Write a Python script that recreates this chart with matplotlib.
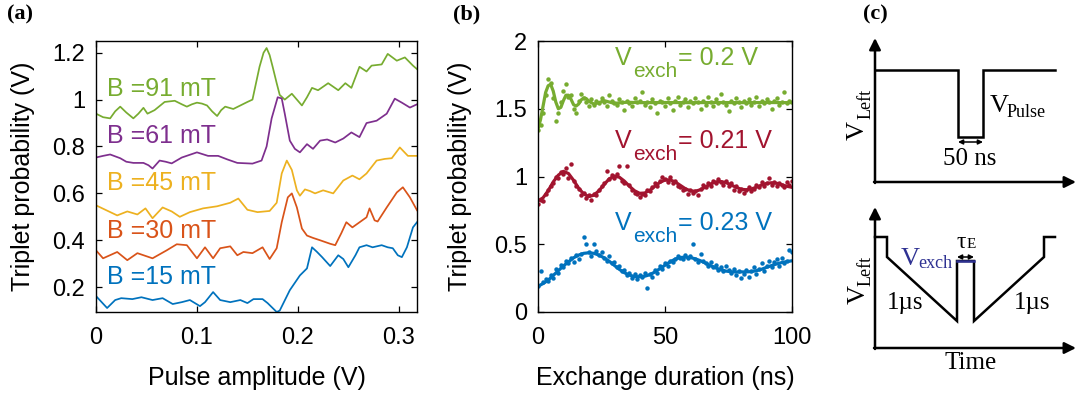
import numpy as np
import matplotlib.pyplot as plt

plt.rcParams['font.family'] = ['Liberation Sans', 'DejaVu Sans']

W, H = 1077, 398

# ---- panel (a): triplet probability vs pulse amplitude, offset curves ----
b_fields = ['B =91 mT', 'B =61 mT', 'B =45 mT', 'B =30 mT', 'B =15 mT']
b_colors = ['#77AC30', '#7E2F8E', '#EDB120', '#D95319', '#0072BD']
b_label_y = [1.015, 0.815, 0.615, 0.41, 0.215]

x_91 = [0.000, 0.007, 0.014, 0.019, 0.024, 0.030, 0.037, 0.042, 0.047, 0.051,
        0.058, 0.068, 0.078, 0.085, 0.090, 0.095, 0.100, 0.105, 0.110, 0.115,
        0.120, 0.124, 0.128, 0.132, 0.136, 0.143, 0.150, 0.155, 0.158, 0.162,
        0.166, 0.169, 0.172, 0.175, 0.179, 0.182, 0.187, 0.194, 0.199, 0.204,
        0.209, 0.214, 0.220, 0.230, 0.240, 0.247, 0.253, 0.261, 0.268, 0.273,
        0.283, 0.289, 0.298, 0.306, 0.314, 0.318]
y_91 = [0.94, 0.925, 0.92, 0.95, 0.97, 0.945, 0.92, 0.94, 0.965, 0.94,
        0.955, 0.99, 0.995, 0.98, 0.97, 0.98, 0.987, 0.983, 0.975, 0.95,
        0.93, 0.955, 0.97, 0.965, 0.96, 0.975, 0.99, 1.00, 1.06, 1.14,
        1.20, 1.22, 1.19, 1.14, 1.07, 1.02, 1.00, 1.025, 1.00, 0.975,
        1.01, 1.05, 1.04, 1.07, 1.04, 1.07, 1.05, 1.14, 1.12, 1.145,
        1.15, 1.195, 1.166, 1.18, 1.145, 1.13]

x_61 = [0.000, 0.007, 0.014, 0.024, 0.030, 0.037, 0.047, 0.052, 0.056, 0.063,
        0.069, 0.075, 0.085, 0.100, 0.111, 0.121, 0.130, 0.140, 0.155, 0.164,
        0.169, 0.174, 0.180, 0.184, 0.187, 0.192, 0.197, 0.202, 0.209, 0.215,
        0.222, 0.229, 0.237, 0.245, 0.253, 0.261, 0.268, 0.278, 0.288, 0.296,
        0.303, 0.311, 0.318]
y_61 = [0.753, 0.76, 0.766, 0.75, 0.735, 0.73, 0.73, 0.72, 0.706, 0.74,
        0.735, 0.728, 0.753, 0.775, 0.76, 0.76, 0.745, 0.73, 0.727, 0.74,
        0.80, 0.92, 1.01, 1.005, 0.94, 0.825, 0.79, 0.775, 0.81, 0.79,
        0.825, 0.83, 0.817, 0.834, 0.86, 0.84, 0.90, 0.91, 0.94, 1.004,
        0.987, 0.966, 0.98]

x_45 = [0.000, 0.021, 0.031, 0.041, 0.049, 0.056, 0.066, 0.075, 0.083, 0.093,
        0.106, 0.120, 0.133, 0.141, 0.150, 0.160, 0.172, 0.179, 0.184, 0.189,
        0.194, 0.199, 0.202, 0.207, 0.212, 0.217, 0.225, 0.235, 0.245, 0.254,
        0.261, 0.268, 0.278, 0.286, 0.293, 0.301, 0.309, 0.318]
y_45 = [0.549, 0.506, 0.523, 0.51, 0.536, 0.494, 0.54, 0.523, 0.50, 0.52,
        0.536, 0.545, 0.56, 0.578, 0.53, 0.52, 0.525, 0.56, 0.685, 0.74,
        0.70, 0.613, 0.59, 0.617, 0.61, 0.60, 0.613, 0.60, 0.655, 0.676,
        0.66, 0.685, 0.74, 0.747, 0.75, 0.796, 0.76, 0.76]

x_30 = [0.000, 0.007, 0.021, 0.031, 0.041, 0.056, 0.070, 0.080, 0.090, 0.100,
        0.108, 0.116, 0.123, 0.133, 0.140, 0.146, 0.155, 0.165, 0.172, 0.179,
        0.184, 0.190, 0.194, 0.199, 0.204, 0.209, 0.215, 0.222, 0.232, 0.237,
        0.243, 0.248, 0.254, 0.268, 0.271, 0.276, 0.279, 0.288, 0.298, 0.304,
        0.311, 0.318]
y_30 = [0.357, 0.323, 0.35, 0.315, 0.345, 0.323, 0.357, 0.383, 0.379, 0.323,
        0.37, 0.323, 0.366, 0.374, 0.336, 0.35, 0.345, 0.37, 0.32, 0.366,
        0.477, 0.583, 0.60, 0.54, 0.45, 0.42, 0.41, 0.40, 0.385, 0.379,
        0.43, 0.477, 0.455, 0.498, 0.536, 0.485, 0.48, 0.54, 0.604, 0.626,
        0.583, 0.528]

x_15 = [0.000, 0.011, 0.019, 0.025, 0.036, 0.045, 0.056, 0.066, 0.076, 0.085,
        0.093, 0.103, 0.108, 0.116, 0.123, 0.133, 0.143, 0.150, 0.156, 0.165,
        0.170, 0.179, 0.182, 0.192, 0.202, 0.209, 0.214, 0.219, 0.224, 0.232,
        0.240, 0.245, 0.250, 0.257, 0.261, 0.268, 0.274, 0.283, 0.289, 0.294,
        0.299, 0.303, 0.308, 0.314, 0.318]
y_15 = [0.162, 0.111, 0.145, 0.153, 0.149, 0.157, 0.145, 0.153, 0.128, 0.136,
        0.145, 0.119, 0.136, 0.179, 0.145, 0.136, 0.145, 0.132, 0.149, 0.149,
        0.132, 0.094, 0.10, 0.187, 0.25, 0.28, 0.37, 0.35, 0.328, 0.29,
        0.336, 0.32, 0.285, 0.336, 0.37, 0.379, 0.37, 0.379, 0.37, 0.366,
        0.336, 0.328, 0.37, 0.455, 0.477]

a_xticks = [0, 0.1, 0.2, 0.3]
a_xticklabels = ['0', '0.1', '0.2', '0.3']
a_yticks = [0.2, 0.4, 0.6, 0.8, 1.0, 1.2]
a_yticklabels = ['0.2', '0.4', '0.6', '0.8', '1', '1.2']

# ---- panel (b): exchange oscillations ----
t_meas = np.arange(0, 101)
p_02 = [1.34, 1.38, 1.47, 1.60, 1.72, 1.69, 1.58, 1.41, 1.47, 1.55,
        1.63, 1.68, 1.59, 1.60, 1.50, 1.47, 1.56, 1.61, 1.58, 1.55,
        1.52, 1.57, 1.53, 1.56, 1.54, 1.58, 1.55, 1.52, 1.60, 1.56,
        1.54, 1.53, 1.57, 1.55, 1.49, 1.56, 1.54, 1.52, 1.58, 1.55,
        1.56, 1.62, 1.53, 1.55, 1.51, 1.57, 1.54, 1.47, 1.56, 1.55,
        1.52, 1.58, 1.54, 1.49, 1.56, 1.59, 1.53, 1.55, 1.57, 1.51,
        1.56, 1.54, 1.58, 1.55, 1.50, 1.56, 1.53, 1.59, 1.55, 1.52,
        1.57, 1.54, 1.61, 1.55, 1.53, 1.48, 1.56, 1.54, 1.58, 1.55,
        1.51, 1.56, 1.54, 1.57, 1.53, 1.55, 1.59, 1.52, 1.56, 1.54,
        1.57, 1.55, 1.50, 1.56, 1.58, 1.53, 1.55, 1.62, 1.54, 1.56, 1.55]
p_021 = [0.80, 0.83, 0.82, 0.87, 0.90, 0.93, 0.95, 1.00, 0.99, 1.03,
         1.02, 1.06, 0.99, 1.09, 0.97, 0.93, 0.91, 0.86, 0.88, 0.84,
         0.86, 0.83, 0.87, 0.86, 0.90, 0.93, 0.95, 1.04, 0.98, 1.01,
         0.99, 1.02, 1.075, 0.97, 0.95, 1.075, 0.94, 0.90, 0.88, 0.87,
         0.85, 0.87, 0.86, 0.90, 0.89, 0.92, 0.95, 0.93, 0.97, 1.00,
         0.98, 0.96, 1.00, 0.95, 0.97, 0.93, 0.92, 0.90, 0.91, 0.87,
         0.90, 0.88, 0.89, 0.86, 0.91, 0.94, 0.92, 0.95, 0.93, 0.97,
         0.95, 0.98, 0.96, 0.94, 0.97, 0.93, 0.95, 0.90, 0.93, 0.89,
         0.91, 0.88, 0.90, 0.92, 0.89, 0.91, 0.94, 0.92, 0.96, 0.93,
         0.95, 0.99, 0.94, 0.96, 0.93, 0.95, 0.94, 0.92, 0.96, 0.94, 0.97]
p_023 = [0.19, 0.30, 0.22, 0.24, 0.23, 0.27, 0.25, 0.32, 0.29, 0.35,
         0.33, 0.38, 0.36, 0.40, 0.37, 0.42, 0.39, 0.43, 0.555, 0.50,
         0.44, 0.41, 0.50, 0.45, 0.42, 0.44, 0.40, 0.38, 0.41, 0.36,
         0.37, 0.33, 0.34, 0.30, 0.31, 0.27, 0.29, 0.25, 0.28, 0.24,
         0.27, 0.26, 0.29, 0.175, 0.28, 0.26, 0.31, 0.29, 0.34, 0.32,
         0.36, 0.34, 0.38, 0.37, 0.39, 0.41, 0.40, 0.39, 0.42, 0.40,
         0.41, 0.50, 0.39, 0.37, 0.43, 0.38, 0.36, 0.34, 0.37, 0.33,
         0.35, 0.31, 0.33, 0.30, 0.34, 0.31, 0.29, 0.32, 0.27, 0.30,
         0.25, 0.28, 0.31, 0.26, 0.30, 0.33, 0.28, 0.32, 0.36, 0.30,
         0.34, 0.38, 0.33, 0.37, 0.39, 0.34, 0.40, 0.36, 0.38, 0.46, 0.44]

t_fit_02 = [0, 1, 2, 3, 4, 5, 6, 7, 8, 9, 10, 11, 12, 13, 14, 15, 16, 17, 18,
            19, 20, 22, 24, 26, 28, 30, 35, 40, 50, 60, 70, 80, 90, 100]
fit_02 = [1.35, 1.42, 1.52, 1.62, 1.67, 1.68, 1.63, 1.55, 1.50, 1.51, 1.56,
          1.60, 1.60, 1.57, 1.53, 1.52, 1.535, 1.565, 1.58, 1.575, 1.555,
          1.535, 1.545, 1.56, 1.55, 1.54, 1.548, 1.545, 1.546, 1.545, 1.546,
          1.545, 1.546, 1.545]
t_fit = np.arange(0, 101, 2)
fit_021 = [0.820, 0.843, 0.895, 0.960, 1.010, 1.038, 1.022, 0.972, 0.914, 0.871,
           0.852, 0.862, 0.895, 0.940, 0.982, 1.003, 0.995, 0.966, 0.928, 0.895,
           0.876, 0.878, 0.898, 0.928, 0.957, 0.974, 0.975, 0.960, 0.935, 0.910,
           0.894, 0.891, 0.903, 0.923, 0.945, 0.960, 0.963, 0.955, 0.938, 0.920,
           0.906, 0.902, 0.908, 0.921, 0.937, 0.949, 0.954, 0.950, 0.939, 0.928,
           0.920]
fit_023 = [0.19, 0.21, 0.235, 0.27, 0.305, 0.34, 0.37, 0.40, 0.42, 0.433,
           0.437, 0.433, 0.42, 0.40, 0.375, 0.345, 0.315, 0.29, 0.272, 0.262,
           0.26, 0.264, 0.275, 0.295, 0.32, 0.345, 0.37, 0.39, 0.402, 0.405,
           0.402, 0.392, 0.378, 0.36, 0.342, 0.325, 0.312, 0.302, 0.297, 0.295,
           0.296, 0.296, 0.298, 0.305, 0.315, 0.33, 0.343, 0.355, 0.365, 0.372,
           0.378]
v_colors = ['#77AC30', '#A2142F', '#0072BD']
v_values = ['= 0.2 V', '= 0.21 V', '= 0.23 V']
v_baselines = [65, 148, 230]   # pixel rows of the label baselines

b_xticks = [0, 50, 100]
b_yticks = [0, 0.5, 1, 1.5, 2]
b_yticklabels = ['0', '0.5', '1', '1.5', '2']

# ---- panel (c): pulse schematics (pixel units of the figure) ----
top_wave_x = [875, 958, 958, 983, 983, 1055]
top_wave_y = [70, 70, 137, 137, 70, 70]
bot_wave_x = [875, 887, 887, 957, 957, 974, 974, 1044, 1044, 1055]
bot_wave_y = [237, 237, 257, 321, 261, 261, 321, 257, 237, 237]

fig = plt.figure(figsize=(W / 100, H / 100), dpi=100)


def box(x0, y0, x1, y1):
    return [x0 / W, 1 - y1 / H, (x1 - x0) / W, (y1 - y0) / H]


def style(ax):
    ax.tick_params(direction='in', top=True, right=True, length=4, width=0.9,
                   labelsize=17)
    ax.tick_params(axis='x', pad=11)
    ax.tick_params(axis='y', pad=8)
    for s in ax.spines.values():
        s.set_linewidth(1.0)


# panel (a)
ax1 = fig.add_axes(box(96, 41, 417, 312))
curves = [(x_91, y_91), (x_61, y_61), (x_45, y_45), (x_30, y_30), (x_15, y_15)]
for (xs, ys), c, lab, ly in zip(curves, b_colors, b_fields, b_label_y):
    ax1.plot(xs, ys, color=c, lw=1.25, solid_joinstyle='round')
    ax1.text(0.011, ly, lab, color=c, fontsize=18, va='baseline', ha='left')
ax1.set_xlim(0, 0.318)
ax1.set_ylim(0.094, 1.25)
ax1.set_xticks(a_xticks, a_xticklabels)
ax1.set_yticks(a_yticks, a_yticklabels)
style(ax1)
ax1.set_xlabel('Pulse amplitude (V)', fontsize=18)
ax1.set_ylabel('Triplet probability (V)', fontsize=18)
ax1.xaxis.set_label_coords(0.5, -0.2)
ax1.yaxis.set_label_coords(-0.19, 0.5)

# panel (b)
ax2 = fig.add_axes(box(538, 41, 792, 312))
for ys, t_f, f, c in zip([p_02, p_021, p_023], [t_fit_02, t_fit, t_fit],
                         [fit_02, fit_021, fit_023], v_colors):
    ax2.plot(t_meas, ys, 'o', color=c, ms=3.2, mew=0)
    ax2.plot(t_f, f, color=c, lw=2.3)
ax2.set_xlim(0, 100)
ax2.set_ylim(0, 2)
ax2.set_xticks(b_xticks, [str(v) for v in b_xticks])
ax2.set_yticks(b_yticks, b_yticklabels)
style(ax2)
ax2.set_xlabel('Exchange duration (ns)', fontsize=18)
ax2.set_ylabel('Triplet probability (V)', fontsize=18)
ax2.xaxis.set_label_coords(0.5, -0.2)
ax2.yaxis.set_label_coords(-0.26, 0.5)

for c, val, yb in zip(v_colors, v_values, v_baselines):
    fig.text(615 / W, 1 - yb / H, 'V', color=c, fontsize=18, va='baseline')
    fig.text(633 / W, 1 - (yb + 12) / H, 'exch', color=c, fontsize=15,
             va='baseline')
    fig.text(678 / W, 1 - yb / H, val, color=c, fontsize=18, va='baseline')

# panel (c)
ax3 = fig.add_axes([820 / W, 0, 1 - 820 / W, 1])
ax3.set_xlim(820, W)
ax3.set_ylim(H, 0)
ax3.axis('off')
serif = ['Liberation Serif', 'DejaVu Serif']
blue = '#2E3192'

for y_axis, y_top in [(182, 38), (348, 207)]:
    ax3.annotate('', xy=(875, y_top), xytext=(875, y_axis + 1),
                 arrowprops=dict(arrowstyle='-|>', lw=1.8, color='k',
                                 mutation_scale=17, shrinkA=0, shrinkB=0),
                 annotation_clip=False)
    ax3.annotate('', xy=(1076, y_axis), xytext=(874, y_axis),
                 arrowprops=dict(arrowstyle='-|>', lw=1.8, color='k',
                                 mutation_scale=17, shrinkA=0, shrinkB=0),
                 annotation_clip=False)

ax3.plot(top_wave_x, top_wave_y, color='k', lw=1.8, solid_joinstyle='miter')
ax3.plot(bot_wave_x, bot_wave_y, color='k', lw=1.8, solid_joinstyle='miter')
ax3.plot(bot_wave_x[4:6], bot_wave_y[4:6], color=blue, lw=1.8)

for x0, x1, y in [(958, 983, 142), (957, 974, 257)]:
    ax3.annotate('', xy=(x1, y), xytext=(x0, y),
                 arrowprops=dict(arrowstyle='<|-|>', lw=1.1, color='k',
                                 mutation_scale=7, shrinkA=0, shrinkB=0))

for vx, vy, sx, sy in [(858, 130, 866, 104), (859, 295, 866, 271)]:
    ax3.text(vx, vy, 'V', family=serif, fontsize=19, rotation=90,
             ha='center', va='center')
    ax3.text(sx, sy, 'Left', family=serif, fontsize=13, rotation=90,
             ha='center', va='center')

ax3.text(990, 112, 'V', family=serif, fontsize=19, va='baseline')
ax3.text(1007, 117, 'Pulse', family=serif, fontsize=13, va='baseline')
ax3.text(970, 159, '50 ns', family=serif, fontsize=18, ha='center', va='center')
ax3.text(901, 265, 'V', family=serif, fontsize=19, color=blue, va='baseline')
ax3.text(918, 268, 'exch', family=serif, fontsize=13, color=blue, va='baseline')
ax3.text(957, 248, 'τ', family=serif, fontsize=17, va='baseline')
ax3.text(967, 248, 'E', family=serif, fontsize=11, va='baseline')
ax3.text(905, 303, '1µs', family=serif, fontsize=18, ha='center', va='center')
ax3.text(1032, 303, '1µs', family=serif, fontsize=18, ha='center', va='center')
ax3.text(971, 363, 'Time', family=serif, fontsize=18, ha='center', va='center')

for lab, xl in [('(a)', 7), ('(b)', 453), ('(c)', 863)]:
    fig.text(xl / W, 1 - 14 / H, lab, family=serif, fontsize=16,
             fontweight='bold', va='center', ha='left')

fig.savefig('out.png', dpi=100)
